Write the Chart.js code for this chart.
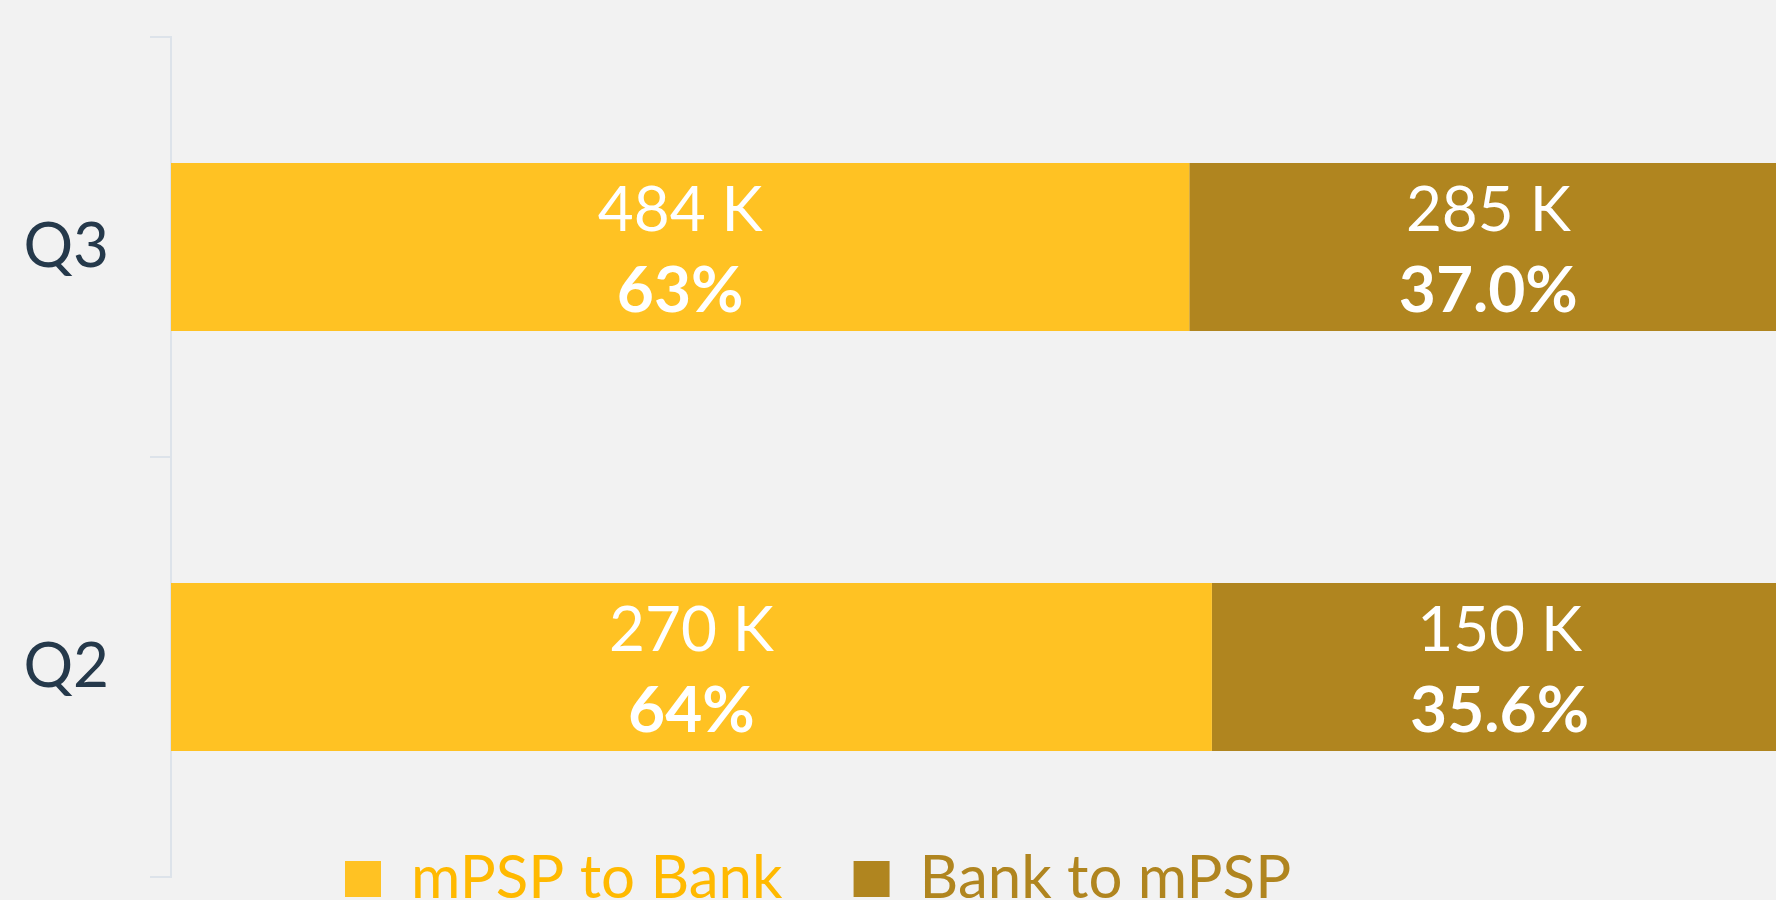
<!DOCTYPE html>
<html>
<head>
<meta charset="utf-8">
<script src="https://cdn.jsdelivr.net/npm/chart.js@4"></script>
<style>
  html, body { margin: 0; padding: 0; background: #f2f2f2; overflow: hidden; }
  #wrap { position: relative; width: 1776px; height: 900px; }
</style>
</head>
<body>
<div id="wrap"><canvas id="flowChart"></canvas></div>
<script>
// values
const quarters = ["Q3", "Q2"];
const seriesNames = ["mPSP to Bank", "Bank to mPSP"];
const mpspToBankK = [484, 270];
const bankToMpspK = [285, 150];
const mpspToBankPct = [63.0, 64.4];
const bankToMpspPct = [37.0, 35.6];

const barColors = ["#FFC223", "#B0851F"];
const legendTextColors = ["#FFB900", "#B0851F"];
const axisColor = "#dde3ea";
const fontFamily = "Lato, 'Open Sans', sans-serif";

// legend sits over the bottom of the plot and runs off the page in the original
const legendBoxLeft = 345;
const legendBoxTop = 861;

const legendPlacer = {
    id: "legendPlacer",
    afterLayout(chart) {
        const lg = chart.legend;
        if (!lg) return;
        const labels = lg.options.labels;
        const size = labels.font.size;
        lg.left = legendBoxLeft - labels.padding;
        lg.top = legendBoxTop - labels.padding - Math.max((size - labels.boxHeight) / 2, 0);
        lg.bottom = chart.height;
    },
};

const barLabels = {
    id: "barLabels",
    afterDatasetsDraw(chart) {
        const ctx = chart.ctx;
        ctx.save();
        ctx.fillStyle = "#ffffff";
        ctx.textAlign = "center";
        ctx.textBaseline = "alphabetic";
        chart.data.datasets.forEach((ds, di) => {
            const meta = chart.getDatasetMeta(di);
            meta.data.forEach((bar, i) => {
                const cx = (bar.x + bar.base) / 2;
                ctx.font = `400 62px ${fontFamily}`;
                ctx.fillText(`${ds.counts[i]} K`, cx, bar.y - 16);
                ctx.font = `700 64px ${fontFamily}`;
                ctx.fillText(`${ds.data[i].toFixed(ds.pctDigits)}%`, cx, bar.y + 65);
            });
        });
        ctx.restore();
    },
};

new Chart(document.getElementById("flowChart"), {
    type: "bar",
    data: {
        labels: quarters,
        datasets: [
            {
                label: seriesNames[0],
                data: mpspToBankPct,
                counts: mpspToBankK,
                pctDigits: 0,
                backgroundColor: barColors[0],
                borderWidth: 0,
                categoryPercentage: 0.8,
                barPercentage: 0.5,
            },
            {
                label: seriesNames[1],
                data: bankToMpspPct,
                counts: bankToMpspK,
                pctDigits: 1,
                backgroundColor: barColors[1],
                borderWidth: 0,
                categoryPercentage: 0.8,
                barPercentage: 0.5,
            },
        ],
    },
    options: {
        indexAxis: "y",
        responsive: true,
        maintainAspectRatio: false,
        animation: false,
        layout: { padding: { top: 37, left: 0, right: 0, bottom: 0 } },
        scales: {
            x: { stacked: true, min: 0, max: 99.3, display: false },
            y: {
                stacked: true,
                afterFit(scale) {
                    scale.width = 171;
                    scale.paddingTop = 0;
                    scale.paddingBottom = 0;
                },
                grid: {
                    offset: true,
                    drawOnChartArea: false,
                    drawTicks: true,
                    tickLength: 21,
                    color: axisColor,
                    lineWidth: 2,
                },
                border: { display: true, color: axisColor, width: 2 },
                ticks: {
                    color: "#25394b",
                    padding: 41,
                    font: { family: fontFamily, size: 62, weight: "400" },
                },
            },
        },
        plugins: {
            tooltip: { enabled: false },
            legend: {
                position: "bottom",
                align: "start",
                maxHeight: 23,
                labels: {
                    boxWidth: 36,
                    boxHeight: 36,
                    padding: 71,
                    font: { family: fontFamily, size: 60, weight: "400" },
                    generateLabels(chart) {
                        const items = Chart.defaults.plugins.legend.labels.generateLabels(chart);
                        items.forEach((it, i) => {
                            it.fontColor = legendTextColors[i];
                            it.lineWidth = 0;
                        });
                        return items;
                    },
                },
            },
        },
    },
    plugins: [legendPlacer, barLabels],
});
</script>
</body>
</html>
